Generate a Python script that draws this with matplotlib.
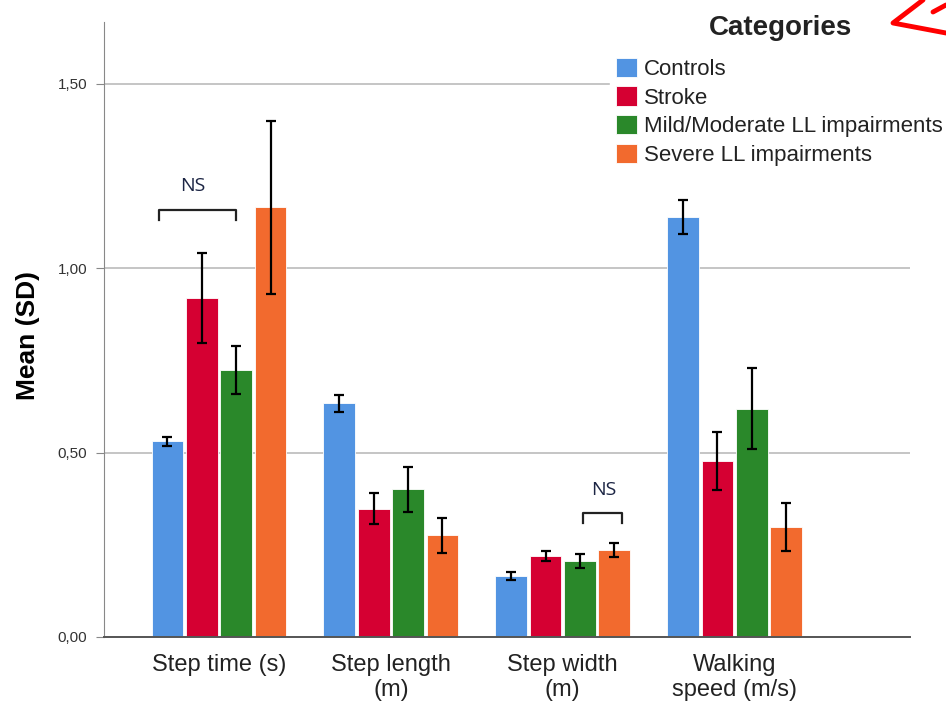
import numpy as np
import matplotlib.pyplot as plt
from matplotlib.lines import Line2D

plt.rcParams['font.family'] = ['Liberation Sans', 'DejaVu Sans']

# Gait measures, mean and SD per group
measures = ["Step time (s)", "Step length\n(m)", "Step width\n(m)", "Walking\nspeed (m/s)"]
groups = ["Controls", "Stroke", "Mild/Moderate LL impairments", "Severe LL impairments"]
colors = ["#5294E2", "#D50032", "#2A882A", "#F26A2E"]

controls_mean = [0.531, 0.634, 0.165, 1.139]
controls_sd = [0.012, 0.023, 0.010, 0.046]
stroke_mean = [0.919, 0.347, 0.219, 0.477]
stroke_sd = [0.123, 0.042, 0.013, 0.079]
mild_mean = [0.724, 0.401, 0.206, 0.619]
mild_sd = [0.064, 0.061, 0.018, 0.109]
severe_mean = [1.165, 0.276, 0.236, 0.299]
severe_sd = [0.235, 0.047, 0.019, 0.065]

means = [controls_mean, stroke_mean, mild_mean, severe_mean]
sds = [controls_sd, stroke_sd, mild_sd, severe_sd]

fig = plt.figure(figsize=(9.46, 7.03), dpi=100)
ax = fig.add_axes([104 / 946, 66 / 703, 806 / 946, 615 / 703])

x = np.arange(len(measures))
width = 0.185
offsets = [-0.3, -0.1, 0.1, 0.3]

for i in range(len(groups)):
    ax.bar(x + offsets[i], means[i], width, color=colors[i], label=groups[i],
           edgecolor="white", linewidth=0.6, zorder=2)
    ax.errorbar(x + offsets[i], means[i], yerr=sds[i], fmt="none",
                ecolor="black", elinewidth=1.6, capsize=3.8, capthick=1.6, zorder=3)

ax.set_xlim(-0.669, 4.02)
ax.set_ylim(0, 1.667)
ax.set_yticks([0, 0.5, 1.0, 1.5])
ax.set_yticklabels(["0,00", "0,50", "1,00", "1,50"], fontsize=11, color="#333333")
ax.set_xticks(x)
ax.set_xticklabels(measures, fontsize=17, color="#222222", linespacing=1.2)
ax.tick_params(axis="x", length=0, pad=12)
ax.tick_params(axis="y", length=6, color="#888888", pad=6)
ax.yaxis.grid(True, color="#BBBBBB", linewidth=1.2, zorder=0)
ax.set_axisbelow(True)

for side in ["top", "right"]:
    ax.spines[side].set_visible(False)
ax.spines["left"].set_color("#888888")
ax.spines["bottom"].set_color("#555555")
ax.spines["bottom"].set_linewidth(1.4)

ax.set_ylabel("Mean (SD)", fontsize=19, fontweight="bold")
ax.yaxis.set_label_coords(-0.08, 0.491)

# NS brackets
def bracket(x0, x1, y_top, y_leg, text_x, text_y):
    ax.plot([x0, x0, x1, x1], [y_leg, y_top, y_top, y_leg], color="#222222",
            linewidth=1.6, zorder=4)
    ax.text(text_x, text_y, "NS", ha="center", va="center", fontsize=14,
            color="#1c2544", family=["Open Sans", "DejaVu Sans"])

bracket(-0.35, 0.10, 1.157, 1.13, -0.151, 1.222)
bracket(2.116, 2.343, 0.337, 0.309, 2.238, 0.398)

leg = ax.legend(loc="upper left", bbox_to_anchor=(0.614, 0.970),
                fontsize=16, frameon=True, framealpha=1, edgecolor="white",
                fancybox=False, handlelength=0.95, handleheight=0.95,
                handletextpad=0.3, labelspacing=0.29, borderpad=0.28)
for t in leg.get_texts():
    t.set_color("#222222")
fig.text(780 / 946, 1 - 28 / 703, "Categories", ha="center", va="center",
         fontsize=20, fontweight="bold", color="#222222")

# red marker stroke at the top right corner
fig.add_artist(Line2D([923 / 946, 893 / 946, 946 / 946], [1.0, 1 - 23 / 703, 1 - 33 / 703],
                      transform=fig.transFigure, color="red", linewidth=3.5,
                      solid_capstyle="round", solid_joinstyle="round", zorder=10))
fig.add_artist(Line2D([933 / 946, 946 / 946], [1 - 12 / 703, 1 - 5 / 703],
                      transform=fig.transFigure, color="red", linewidth=3.5,
                      solid_capstyle="round", zorder=10))

fig.savefig("out.png", dpi=100)
